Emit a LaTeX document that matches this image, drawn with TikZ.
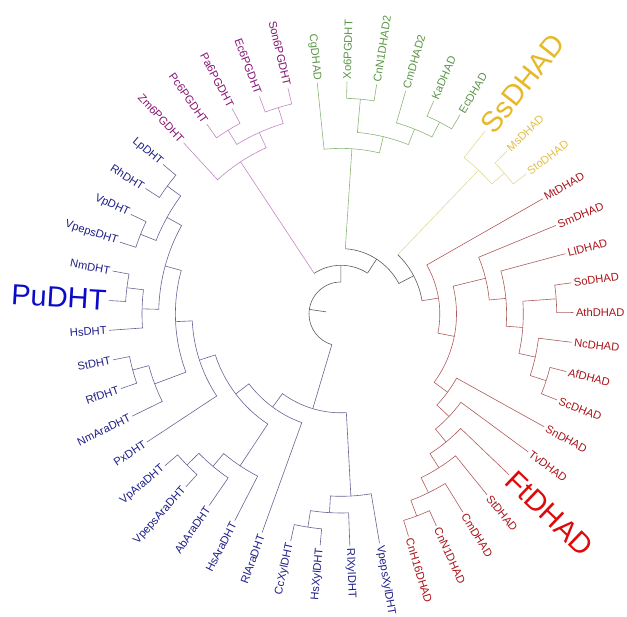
\documentclass[tikz,border=0pt]{standalone}
\usepackage{fontspec}
\setmainfont{Liberation Sans}
\definecolor{pinkbr}{RGB}{195,135,195}
\definecolor{pinklab}{RGB}{135,20,115}
\definecolor{greenbr}{RGB}{140,180,120}
\definecolor{greenlab}{RGB}{90,150,70}
\definecolor{yellowbr}{RGB}{225,218,150}
\definecolor{yellowlab}{RGB}{225,190,70}
\definecolor{yellowbig}{RGB}{230,185,40}
\definecolor{redbr}{RGB}{175,90,90}
\definecolor{redlab}{RGB}{170,20,25}
\definecolor{redbig}{RGB}{220,10,10}
\definecolor{bluebr}{RGB}{100,100,150}
\definecolor{bluelab}{RGB}{30,30,135}
\definecolor{bluebig}{RGB}{10,10,200}
\definecolor{backbone}{RGB}{90,90,90}
\tikzset{
  bb/.style = {draw=backbone, line width=0.6pt},
  pk/.style = {draw=pinkbr, line width=0.6pt},
  gr/.style = {draw=greenbr, line width=0.6pt},
  ye/.style = {draw=yellowbr, line width=0.6pt},
  rd/.style = {draw=redbr, line width=0.6pt},
  bl/.style = {draw=bluebr, line width=0.6pt},
  tip/.style = {inner sep=1pt, font=\fontsize{11.2}{13}\selectfont},
  bigtip/.style = {inner sep=1pt, font=\fontsize{29}{32}\selectfont},
}
% radial stem: style, angle, r from, r to
\newcommand{\stem}[4]{\draw[#1] (#2:#3pt) -- (#2:#4pt);}
% arc of a clade: style, radius, angle from, angle to
\newcommand{\clarc}[4]{\draw[#1] (#3:#2pt) arc[start angle=#3, end angle=#4, radius=#2pt];}
% clade: style, radius, child angle, child radius, child angle, child radius
\newcommand{\clade}[6]{\draw[#1] (#3:#4pt) -- (#3:#2pt) arc[start angle=#3, end angle=#5, radius=#2pt] -- (#5:#6pt);}
% leaf labels, right and left half
\newcommand{\tipR}[4]{\node[#1, anchor=west, rotate=#2] (#3) at (#2:233.8pt) {#4};}
\newcommand{\tipL}[4]{\node[#1, anchor=east, rotate=#2-180] (#3) at (#2:233.8pt) {#4};}

\begin{document}
\begin{tikzpicture}
      \useasboundingbox (-341pt,-303pt) rectangle (286pt,314pt);
      % backbone
      \stem{bb}{171.8}{32}{15.3}
      \clarc{bb}{32}{90.21}{253.395}
      \stem{bb}{90.21}{32}{48.7}
      \stem{bl}{253.395}{32}{98.8}
      \clarc{bb}{48.7}{123.42}{57.00}
      \stem{pk}{123.42}{48.7}{182.3}
      \stem{bb}{57.00}{48.7}{65.4}
      \clarc{bb}{65.4}{86.22}{27.775}
      \stem{gr}{86.22}{65.4}{165.6}
      \stem{bb}{27.775}{65.4}{82.1}
      \clarc{bb}{82.1}{46.27}{9.28}
      \stem{ye}{46.27}{82.1}{199.0}
      \stem{rd}{9.28}{82.1}{98.8}
      % 6PGDHT
      \clade{pk}{182.3}{132.60}{232.4}{114.23}{199.0}
      \clade{pk}{199.0}{121.58}{215.7}{106.885}{215.7}
      \clade{pk}{215.7}{125.25}{232.4}{117.91}{232.4}
      \clade{pk}{215.7}{110.56}{232.4}{103.21}{232.4}
      % green DHAD
      \clade{gr}{165.6}{95.87}{232.4}{76.58}{182.3}
      \clade{gr}{182.3}{84.845}{215.7}{68.31}{199.0}
      \clade{gr}{215.7}{88.52}{232.4}{81.17}{232.4}
      \clade{gr}{199.0}{73.82}{232.4}{62.805}{215.7}
      \clade{gr}{215.7}{66.48}{232.4}{59.13}{232.4}
      % yellow DHAD
      \clade{ye}{199.0}{51.78}{232.4}{40.765}{215.7}
      \clade{ye}{215.7}{44.44}{232.4}{37.09}{232.4}
      % red DHAD
      \clade{rd}{98.8}{29.74}{232.4}{-11.18}{115.5}
      \clade{rd}{115.5}{13.905}{148.9}{-36.265}{132.2}
      \clade{rd}{148.9}{22.40}{232.4}{5.41}{165.6}
      \clade{rd}{165.6}{15.05}{232.4}{-4.235}{182.3}
      \clade{rd}{182.3}{4.03}{215.7}{-12.50}{199.0}
      \clade{rd}{215.7}{7.70}{232.4}{0.36}{232.4}
      \clade{rd}{199.0}{-6.99}{232.4}{-18.015}{215.7}
      \clade{rd}{215.7}{-14.34}{232.4}{-21.69}{232.4}
      \clade{rd}{132.2}{-29.03}{232.4}{-43.50}{148.9}
      \clade{rd}{148.9}{-36.38}{232.4}{-50.615}{165.6}
      \clade{rd}{165.6}{-43.73}{232.4}{-57.50}{182.3}
      \clade{rd}{182.3}{-51.07}{232.4}{-63.93}{199.0}
      \clade{rd}{199.0}{-58.42}{232.4}{-69.44}{215.7}
      \clade{rd}{215.7}{-65.77}{232.4}{-73.11}{232.4}
      % blue DHT
      \clade{bl}{98.8}{233.68}{115.5}{273.11}{182.3}
      \clade{bl}{182.3}{279.54}{232.4}{266.68}{199.0}
      \clade{bl}{199.0}{272.19}{232.4}{261.175}{215.7}
      \clade{bl}{215.7}{264.85}{232.4}{257.50}{232.4}
      \clade{bl}{115.5}{217.205}{132.2}{250.15}{232.4}
      \clade{bl}{132.2}{198.035}{148.9}{236.375}{182.3}
      \clade{bl}{182.3}{229.95}{199.0}{242.80}{232.4}
      \clade{bl}{199.0}{224.435}{215.7}{235.46}{232.4}
      \clade{bl}{215.7}{220.76}{232.4}{228.11}{232.4}
      \clade{bl}{148.9}{182.65}{165.6}{213.42}{232.4}
      \clade{bl}{165.6}{164.745}{182.3}{200.56}{199.0}
      \clade{bl}{199.0}{195.05}{215.7}{206.07}{232.4}
      \clade{bl}{215.7}{191.38}{232.4}{198.72}{232.4}
      \clade{bl}{182.3}{150.97}{199.0}{178.52}{199.0}
      \clade{bl}{199.0}{143.625}{215.7}{158.315}{215.7}
      \clade{bl}{215.7}{139.95}{232.4}{147.30}{232.4}
      \clade{bl}{215.7}{154.64}{232.4}{161.99}{232.4}
      \clade{bl}{199.0}{173.01}{215.7}{184.03}{232.4}
      \clade{bl}{215.7}{169.34}{232.4}{176.68}{232.4}
      % labels
      \tipL{tip, text=pinklab}{132.60}{zm6}{Zm6PGDHT}
      \tipL{tip, text=pinklab}{125.25}{pc6}{Pc6PGDHT}
      \tipL{tip, text=pinklab}{117.91}{pa6}{Pa6PGDHT}
      \tipL{tip, text=pinklab}{110.56}{ec6}{Ec6PGDHT}
      \tipL{tip, text=pinklab}{103.21}{son6}{Son6PGDHT}
      \tipL{tip, text=greenlab}{95.87}{cg}{CgDHAD}
      \tipR{tip, text=greenlab}{88.52}{xo6}{Xo6PGDHT}
      \tipR{tip, text=greenlab}{81.17}{cnn2}{CnN1DHAD2}
      \tipR{tip, text=greenlab}{73.82}{cm2}{CmDHAD2}
      \tipR{tip, text=greenlab}{66.48}{ka}{KaDHAD}
      \tipR{tip, text=greenlab}{59.13}{ec}{EcDHAD}
      \tipR{bigtip, text=yellowbig}{51.78}{ss}{SsDHAD}
      \tipR{tip, text=yellowlab}{44.44}{ms}{MsDHAD}
      \tipR{tip, text=yellowlab}{37.09}{sto}{StoDHAD}
      \tipR{tip, text=redlab}{29.74}{mt}{MtDHAD}
      \tipR{tip, text=redlab}{22.40}{sm}{SmDHAD}
      \tipR{tip, text=redlab}{15.05}{ll}{LlDHAD}
      \tipR{tip, text=redlab}{7.70}{so}{SoDHAD}
      \tipR{tip, text=redlab}{0.36}{ath}{AthDHAD}
      \tipR{tip, text=redlab}{-6.99}{nc}{NcDHAD}
      \tipR{tip, text=redlab}{-14.34}{af}{AfDHAD}
      \tipR{tip, text=redlab}{-21.69}{sc}{ScDHAD}
      \tipR{tip, text=redlab}{-29.03}{sn}{SnDHAD}
      \tipR{tip, text=redlab}{-36.38}{tv}{TvDHAD}
      \tipR{bigtip, text=redbig}{-43.73}{ft}{FtDHAD}
      \tipR{tip, text=redlab}{-51.07}{std}{StDHAD}
      \tipR{tip, text=redlab}{-58.42}{cmd}{CmDHAD}
      \tipR{tip, text=redlab}{-65.77}{cnn1}{CnN1DHAD}
      \tipR{tip, text=redlab}{-73.11}{cnh16}{CnH16DHAD}
      \tipR{tip, text=bluelab}{-80.46}{vpepsxyl}{VpepsXylDHT}
      \tipR{tip, text=bluelab}{-87.81}{rlxyl}{RlXylDHT}
      \tipL{tip, text=bluelab}{264.85}{hsxyl}{HsXylDHT}
      \tipL{tip, text=bluelab}{257.50}{ccxyl}{CcXylDHT}
      \tipL{tip, text=bluelab}{250.15}{rlara}{RlAraDHT}
      \tipL{tip, text=bluelab}{242.80}{hsara}{HsAraDHT}
      \tipL{tip, text=bluelab}{235.46}{abara}{AbAraDHT}
      \tipL{tip, text=bluelab}{228.11}{vpepsara}{VpepsAraDHT}
      \tipL{tip, text=bluelab}{220.76}{vpara}{VpAraDHT}
      \tipL{tip, text=bluelab}{213.42}{px}{PxDHT}
      \tipL{tip, text=bluelab}{206.07}{nmara}{NmAraDHT}
      \tipL{tip, text=bluelab}{198.72}{rf}{RfDHT}
      \tipL{tip, text=bluelab}{191.38}{st}{StDHT}
      \tipL{tip, text=bluelab}{184.03}{hs}{HsDHT}
      \tipL{bigtip, text=bluebig}{176.68}{pu}{PuDHT}
      \tipL{tip, text=bluelab}{169.34}{nm}{NmDHT}
      \tipL{tip, text=bluelab}{161.99}{vpeps}{VpepsDHT}
      \tipL{tip, text=bluelab}{154.64}{vp}{VpDHT}
      \tipL{tip, text=bluelab}{147.30}{rh}{RhDHT}
      \tipL{tip, text=bluelab}{139.95}{lp}{LpDHT}
\end{tikzpicture}
\end{document}
